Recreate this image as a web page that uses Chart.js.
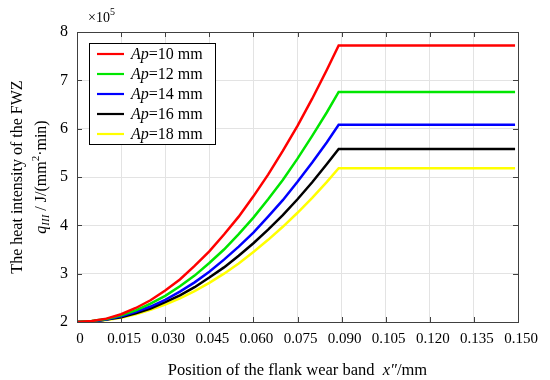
<!DOCTYPE html>
<html>
<head>
<meta charset="utf-8">
<script src="https://cdn.jsdelivr.net/npm/chart.js@4.4.1/dist/chart.umd.min.js"></script>
<style>
  body { margin: 0; background: #fff; }
  #wrap { width: 550px; height: 380px; }
</style>
</head>
<body>
<div id="wrap"><canvas id="heatChart" width="550" height="380"></canvas></div>
<script>
// position along the flank wear band x'' (mm)
const xPos = [0, 0.005, 0.010, 0.015, 0.020, 0.025, 0.030, 0.035, 0.040, 0.045,
              0.050, 0.055, 0.060, 0.065, 0.070, 0.075, 0.080, 0.085, 0.089, 0.149];

// heat intensity q_III (x10^5 J/(mm^2·min)) for each cutting depth Ap
const apValues = [10, 12, 14, 16, 18];
const q10 = [2.00, 2.02, 2.07, 2.16, 2.29, 2.45, 2.65, 2.88, 3.16, 3.46,
             3.81, 4.18, 4.60, 5.05, 5.54, 6.06, 6.62, 7.22, 7.72, 7.72];
const q12 = [2.00, 2.02, 2.06, 2.14, 2.24, 2.38, 2.54, 2.74, 2.96, 3.22,
             3.50, 3.82, 4.16, 4.54, 4.94, 5.38, 5.85, 6.34, 6.76, 6.76];
const q14 = [2.00, 2.01, 2.05, 2.12, 2.21, 2.32, 2.46, 2.63, 2.82, 3.04,
             3.29, 3.56, 3.85, 4.18, 4.52, 4.90, 5.30, 5.72, 6.08, 6.08];
const q16 = [2.00, 2.01, 2.05, 2.10, 2.18, 2.28, 2.41, 2.55, 2.72, 2.92,
             3.13, 3.37, 3.63, 3.91, 4.21, 4.54, 4.89, 5.27, 5.58, 5.58];
const q18 = [2.00, 2.01, 2.04, 2.09, 2.16, 2.25, 2.36, 2.49, 2.64, 2.81,
             3.00, 3.21, 3.45, 3.70, 3.97, 4.26, 4.57, 4.90, 5.18, 5.18];

// axis ticks
const xTicks = [0, 0.015, 0.030, 0.045, 0.060, 0.075, 0.090, 0.105, 0.120, 0.135, 0.150];
const xTickLabels = ['0', '0.015', '0.030', '0.045', '0.060', '0.075', '0.090', '0.105', '0.120', '0.135', '0.150'];
const yTicks = [2, 3, 4, 5, 6, 7, 8];

const series = [q10, q12, q14, q16, q18];
const lineColors = ['#ff0000', '#00e600', '#0000ff', '#000000', '#ffff00'];
const serif = '"Liberation Serif", "Times New Roman", serif';

// draw a run of text pieces with different fonts, centred on (cx, cy)
function drawRuns(ctx, runs, cx, cy, align) {
    let total = 0;
    runs.forEach(r => { ctx.font = r.font; r.w = ctx.measureText(r.t).width; total += r.w; });
    let x = align === 'left' ? cx : cx - total / 2;
    runs.forEach(r => {
        ctx.font = r.font;
        ctx.fillText(r.t, x, cy + (r.dy || 0));
        x += r.w;
    });
}

const matlabLook = {
    id: 'matlabLook',
    afterDraw(chart) {
        const ctx = chart.ctx;
        const a = chart.chartArea;
        const xs = chart.scales.x, ys = chart.scales.y;
        ctx.save();

        // inward tick marks
        ctx.strokeStyle = '#404040';
        ctx.lineWidth = 1;
        ctx.beginPath();
        xTicks.forEach(v => {
            const px = Math.round(xs.getPixelForValue(v)) + 0.5;
            ctx.moveTo(px, a.bottom); ctx.lineTo(px, a.bottom - 5);
            ctx.moveTo(px, a.top); ctx.lineTo(px, a.top + 5);
        });
        yTicks.forEach(v => {
            const py = Math.round(ys.getPixelForValue(v)) + 0.5;
            ctx.moveTo(a.left, py); ctx.lineTo(a.left + 5, py);
            ctx.moveTo(a.right, py); ctx.lineTo(a.right - 5, py);
        });
        ctx.stroke();

        // axes box
        ctx.strokeStyle = '#404040';
        ctx.strokeRect(Math.round(a.left) + 0.5, Math.round(a.top) + 0.5,
                       Math.round(a.right - a.left), Math.round(a.bottom - a.top));

        // legend
        const lx = 89, ly = 43, lw = 126, lh = 101;
        ctx.fillStyle = '#fff';
        ctx.fillRect(lx, ly, lw, lh);
        ctx.strokeStyle = '#000';
        ctx.strokeRect(lx + 0.5, ly + 0.5, lw, lh);
        ctx.textBaseline = 'middle';
        chart.data.datasets.forEach((ds, i) => {
            const yy = ly + 11 + i * 20;
            ctx.strokeStyle = ds.borderColor;
            ctx.lineWidth = 2.2;
            ctx.beginPath();
            ctx.moveTo(97, yy); ctx.lineTo(124, yy);
            ctx.stroke();
            ctx.fillStyle = '#000';
            drawRuns(ctx, [
                { t: 'Ap', font: 'italic 16px ' + serif },
                { t: '=' + apValues[i] + ' mm', font: '16px ' + serif }
            ], 131, yy + 1, 'left');
        });

        // exponent label
        ctx.fillStyle = '#000';
        drawRuns(ctx, [
            { t: '\u00d710', font: '14px ' + serif },
            { t: '5', font: '10px ' + serif, dy: -6 }
        ], 88, 18, 'left');

        // x title
        drawRuns(ctx, [
            { t: 'Position of the flank wear band  ', font: '16.5px ' + serif },
            { t: 'x\u2033', font: 'italic 16.5px ' + serif },
            { t: '/mm', font: '16.5px ' + serif }
        ], (a.left + a.right) / 2, 371);

        // y title (two rotated lines)
        const cyMid = (a.top + a.bottom) / 2;
        ctx.translate(18, cyMid);
        ctx.rotate(-Math.PI / 2);
        drawRuns(ctx, [{ t: 'The heat intensity of the FWZ', font: '16px ' + serif }], 0, 0);
        ctx.rotate(Math.PI / 2);
        ctx.translate(24, 0);
        ctx.rotate(-Math.PI / 2);
        drawRuns(ctx, [
            { t: 'q', font: 'italic 16px ' + serif },
            { t: 'III', font: 'italic 11px ' + serif, dy: 4 },
            { t: ' / J/(mm', font: '16px ' + serif },
            { t: '2', font: '11px ' + serif, dy: -6 },
            { t: '\u00b7min)', font: '16px ' + serif }
        ], 0, 0);
        ctx.restore();
    }
};

new Chart(document.getElementById('heatChart'), {
    type: 'line',
    data: {
        datasets: series.map((s, i) => ({
            label: 'Ap=' + apValues[i] + ' mm',
            data: xPos.map((x, j) => ({ x: x, y: s[j] })),
            borderColor: lineColors[i],
            borderWidth: 2.5,
            pointRadius: 0,
            tension: 0,
            fill: false
        }))
    },
    options: {
        responsive: false,
        animation: false,
        layout: { padding: { top: 32, right: 32, left: 0, bottom: 0 } },
        plugins: { legend: { display: false }, tooltip: { enabled: false } },
        scales: {
            x: {
                type: 'linear',
                min: 0,
                max: 0.15,
                afterBuildTicks: s => { s.ticks = xTicks.map(v => ({ value: v })); },
                afterFit: s => { s.height = 58; },
                grid: { color: '#e3e3e3', drawTicks: false },
                border: { display: false },
                ticks: {
                    padding: 8,
                    labelOffset: 3,
                    color: '#000',
                    font: { family: serif, size: 15 },
                    maxRotation: 0,
                    callback: (v) => xTickLabels[xTicks.findIndex(t => Math.abs(t - v) < 1e-9)]
                }
            },
            y: {
                min: 2,
                max: 8,
                afterBuildTicks: s => { s.ticks = yTicks.map(v => ({ value: v })); },
                afterFit: s => { s.width = 77; },
                grid: { color: '#e3e3e3', drawTicks: false },
                border: { display: false },
                ticks: {
                    padding: 9,
                    color: '#000',
                    font: { family: serif, size: 16 }
                }
            }
        }
    },
    plugins: [matlabLook]
});
</script>
</body>
</html>
